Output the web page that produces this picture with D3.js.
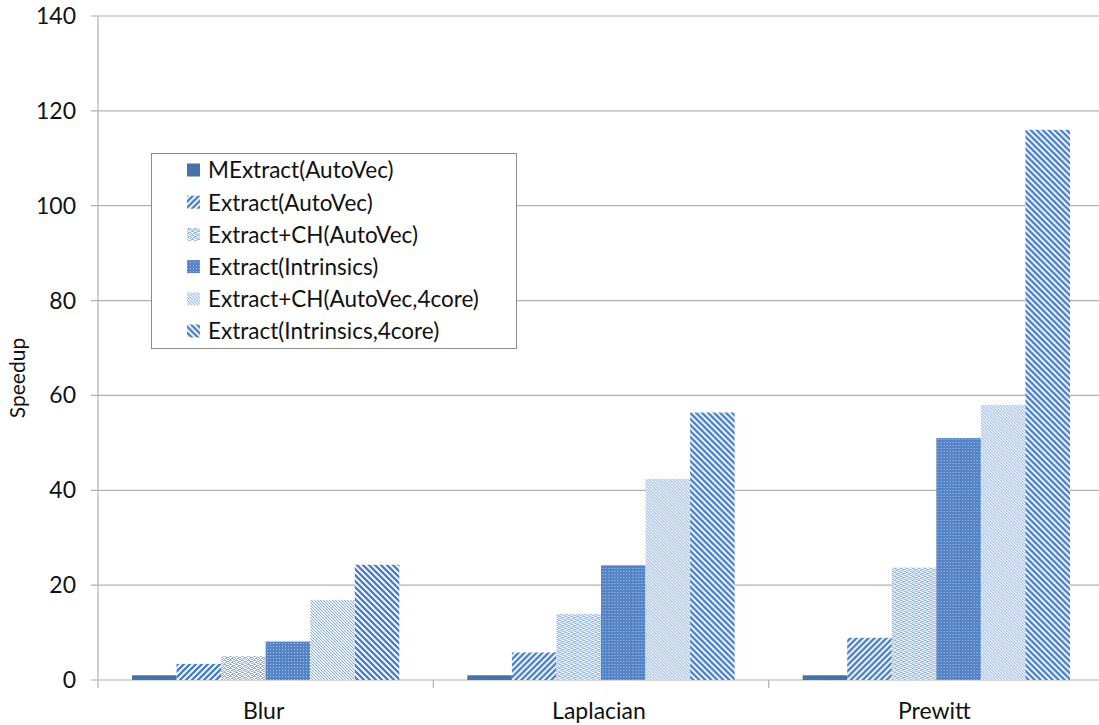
<!DOCTYPE html>
<html>
<head>
<meta charset="utf-8">
<script src="https://cdn.jsdelivr.net/npm/d3@7"></script>
<style>
  html, body { margin: 0; padding: 0; background: #fff; }
  svg { display: block; }
  text { font-family: Lato, "Open Sans", sans-serif; fill: #111; }
</style>
</head>
<body>
<svg id="chart" width="1099" height="725"></svg>
<script>
// Benchmarks on the x axis
const categories = ["Blur", "Laplacian", "Prewitt"];

// Variants, one bar per benchmark each
const seriesNames = [
  "MExtract(AutoVec)",
  "Extract(AutoVec)",
  "Extract+CH(AutoVec)",
  "Extract(Intrinsics)",
  "Extract+CH(AutoVec,4core)",
  "Extract(Intrinsics,4core)"
];

// Speedup per variant, in the order of categories
const mextractAutoVec   = [1.0, 1.0, 1.0];
const extractAutoVec    = [3.4, 5.8, 8.9];
const extractChAutoVec  = [5.0, 13.9, 23.7];
const extractIntrinsics = [8.1, 24.2, 51.0];
const extractCh4core    = [16.9, 42.4, 58.0];
const extractIntr4core  = [24.3, 56.4, 116.0];

const seriesValues = [
  mextractAutoVec, extractAutoVec, extractChAutoVec,
  extractIntrinsics, extractCh4core, extractIntr4core
];

const yTicks = [0, 20, 40, 60, 80, 100, 120, 140];

const svg = d3.select("#chart");
const plot = { left: 98, right: 1104, top: 16, bottom: 680 };

const x0 = d3.scaleBand().domain(categories).range([plot.left, plot.right]);
const inset = 34;
const x1 = d3.scaleBand().domain(seriesNames).range([inset, x0.bandwidth() - inset]);
const y = d3.scaleLinear().domain([0, 140]).range([plot.bottom, plot.top]);

// ---------- fill patterns ----------
const defs = svg.append("defs");

function tile(id, w, h, bg) {
  const p = defs.append("pattern")
    .attr("id", id).attr("patternUnits", "userSpaceOnUse")
    .attr("width", w).attr("height", h);
  p.append("rect").attr("width", w).attr("height", h).attr("fill", bg);
  return p;
}
function pixels(p, pts, color) {
  pts.forEach(([px, py]) => p.append("rect")
    .attr("x", px).attr("y", py).attr("width", 1).attr("height", 1)
    .attr("fill", color).attr("shape-rendering", "crispEdges"));
}

// wide upward diagonal
const pUp = tile("wideUp", 6, 6, "#fff");
pUp.append("path")
  .attr("d", "M-1,7 L7,-1 M-4,4 L4,-4 M2,10 L10,2")
  .attr("stroke", "#4a7fc8").attr("stroke-width", 2.4);

// wave
const pWave = tile("wave", 6, 4, "#fff");
pixels(pWave, [[0,0],[1,0],[2,1],[3,1],[4,1],[5,0],
               [1,2],[2,2],[3,3],[4,3],[5,2],[0,3]], "#8fb0de");

// dotted grid on blue
const pDots = tile("dots", 3, 3, "#5484c6");
pixels(pDots, [[1,1]], "#a9c1e6");

// light downward diagonal
const pLight = tile("lightDown", 3, 3, "#fff");
pixels(pLight, [[0,0],[1,1],[2,2]], "#8aaedf");
pixels(pLight, [[1,0],[2,1],[0,2]], "#dbe6f5");

// wide downward diagonal
const pDown = tile("wideDown", 6, 6, "#fff");
pDown.append("path")
  .attr("d", "M-1,-1 L7,7 M-4,2 L4,10 M2,-4 L10,4")
  .attr("stroke", "#4a7fc8").attr("stroke-width", 2.4);

const fills = [
  "#4672aa", "url(#wideUp)", "url(#wave)",
  "url(#dots)", "url(#lightDown)", "url(#wideDown)"
];

// ---------- gridlines and axes ----------
svg.append("g")
  .selectAll("line").data(yTicks).join("line")
  .attr("x1", plot.left - 7).attr("x2", 1099)
  .attr("y1", d => y(d)).attr("y2", d => y(d))
  .attr("stroke", "#b0b0b0").attr("stroke-width", 1.2);

svg.append("line")
  .attr("x1", plot.left).attr("x2", plot.left)
  .attr("y1", plot.top).attr("y2", plot.bottom + 8)
  .attr("stroke", "#b0b0b0").attr("stroke-width", 1.2);

// category boundary ticks below the axis
svg.append("g")
  .selectAll("line").data(categories.slice(1)).join("line")
  .attr("x1", d => x0(d)).attr("x2", d => x0(d))
  .attr("y1", plot.bottom).attr("y2", plot.bottom + 8)
  .attr("stroke", "#b0b0b0").attr("stroke-width", 1.2);

svg.append("g")
  .selectAll("text").data(yTicks).join("text")
  .attr("x", 76).attr("y", d => y(d)).attr("dy", "0.35em")
  .attr("text-anchor", "end").attr("font-size", 23)
  .text(d => d);

svg.append("g")
  .selectAll("text").data(categories).join("text")
  .attr("x", d => x0(d) + x0.bandwidth() / 2 - 2).attr("y", 711)
  .attr("dy", "0.35em").attr("text-anchor", "middle").attr("font-size", 23)
  .text(d => d);

svg.append("text")
  .attr("transform", "translate(25,378) rotate(-90)")
  .attr("text-anchor", "middle").attr("font-size", 21)
  .text("Speedup");

// ---------- bars ----------
const groups = svg.append("g")
  .selectAll("g").data(categories).join("g")
  .attr("transform", d => `translate(${x0(d)},0)`);

groups.selectAll("rect")
  .data((c, ci) => seriesNames.map((s, si) => ({ s, si, v: seriesValues[si][ci] })))
  .join("rect")
  .attr("x", d => x1(d.s))
  .attr("width", x1.bandwidth())
  .attr("y", d => y(d.v))
  .attr("height", d => y(0) - y(d.v))
  .attr("fill", d => fills[d.si]);

// ---------- legend ----------
const legend = svg.append("g");
legend.append("rect")
  .attr("x", 151.5).attr("y", 153.5).attr("width", 365).attr("height", 195)
  .attr("fill", "#fff").attr("stroke", "#8c8c8c").attr("stroke-width", 1);

const rows = legend.selectAll("g").data(seriesNames).join("g")
  .attr("transform", (d, i) => `translate(0,${170.5 + i * 32.2})`);
rows.append("rect")
  .attr("x", 187).attr("y", -7).attr("width", 13).attr("height", 13)
  .attr("fill", (d, i) => fills[i]);
rows.append("text")
  .attr("x", 208).attr("dy", "0.35em").attr("font-size", 22.5)
  .text(d => d);
</script>
</body>
</html>
